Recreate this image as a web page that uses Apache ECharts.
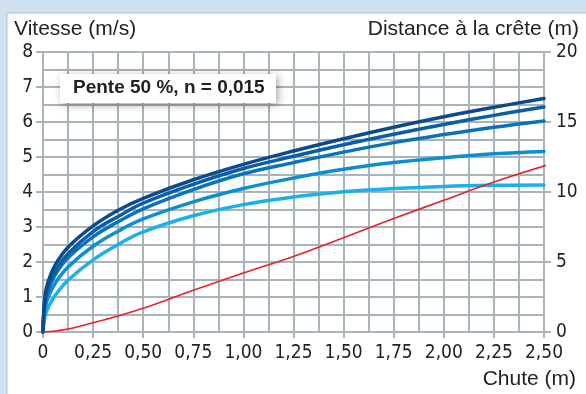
<!DOCTYPE html>
<html>
<head>
<meta charset="utf-8">
<script src="https://cdn.jsdelivr.net/npm/echarts@6/dist/echarts.min.js"></script>
<style>
html, body { margin: 0; padding: 0; background: #cde2ee; }
#chart { width: 586px; height: 394px; }
</style>
</head>
<body>
<div id="chart"></div>
<script>
// chute (m) for the speed curves
var chute = [0, 0.01, 0.03, 0.0625, 0.125, 0.25, 0.375, 0.5, 0.75, 1.0, 1.25, 1.5, 1.75, 2.0, 2.25, 2.5];
// vitesse (m/s), darkest to lightest
var vit1 = [0, 1.04, 1.51, 1.93, 2.42, 3.03, 3.48, 3.82, 4.35, 4.79, 5.17, 5.52, 5.85, 6.15, 6.42, 6.67];
var vit2 = [0, 0.91, 1.35, 1.75, 2.24, 2.87, 3.30, 3.68, 4.22, 4.67, 5.02, 5.35, 5.65, 5.93, 6.19, 6.43];
var vit3 = [0, 0.84, 1.26, 1.65, 2.12, 2.72, 3.15, 3.52, 4.07, 4.52, 4.84, 5.14, 5.41, 5.64, 5.85, 6.03];
var vit4 = [0, 0.68, 1.05, 1.41, 1.86, 2.45, 2.88, 3.23, 3.72, 4.1, 4.40, 4.65, 4.84, 4.98, 5.09, 5.16];
var vit5 = [0, 0.45, 0.75, 1.06, 1.48, 2.06, 2.50, 2.86, 3.32, 3.64, 3.86, 4.01, 4.10, 4.16, 4.19, 4.2];
// distance à la crête (m)
var chuteDist = [0, 0.125, 0.25, 0.375, 0.5, 0.75, 1.0, 1.25, 1.5, 1.75, 2.0, 2.25, 2.54];
var distance = [0, 0.22, 0.66, 1.15, 1.69, 2.98, 4.22, 5.4, 6.74, 8.1, 9.41, 10.71, 12.03];

var blues = ['#0b4a8b', '#0a5ea6', '#0873bd', '#0b8fd3', '#1ab0ea'];
var vitesses = [vit1, vit2, vit3, vit4, vit5];

function pairs(xs, ys) {
	var out = [];
	for (var i = 0; i < xs.length; i++) out.push([xs[i], ys[i]]);
	return out;
}

var gridColor = '#a8b3ba';
var font = 'Liberation Sans, Arial, sans-serif';
var tickFont = '"Liberation Sans Narrow", "DejaVu Sans Condensed", "Liberation Sans", sans-serif';

var series = [];
for (var k = 0; k < vitesses.length; k++) {
	series.push({
		type: 'line',
		data: pairs(chute, vitesses[k]),
		smooth: 0.4,
		showSymbol: false,
		z: 10 - k,
		lineStyle: { color: blues[k], width: 3.5, cap: 'round' }
	});
}
series.push({
	type: 'line',
	yAxisIndex: 1,
	data: pairs(chuteDist, distance),
	smooth: 0.4,
	showSymbol: false,
	z: 11,
	lineStyle: { color: '#e8202a', width: 1.6 }
});

var myChart = echarts.init(document.getElementById('chart'));
var option = {
	animation: false,
	backgroundColor: 'transparent',
	grid: { left: 43, right: 42, top: 52, bottom: 62 },
	xAxis: {
		type: 'value', min: 0, max: 2.5, interval: 0.25,
		axisLine: { show: true, lineStyle: { color: gridColor, width: 2 } },
		axisTick: { show: true, length: 6, lineStyle: { color: gridColor, width: 2 } },
		axisLabel: {
			margin: 12, color: '#222', fontSize: 19, fontFamily: tickFont,
			formatter: function (v) { return v === 0 ? '0' : v.toFixed(2).replace('.', ','); }
		},
		splitLine: { show: true, lineStyle: { color: gridColor, width: 2 } },
		minorTick: { show: false, splitNumber: 2 },
		minorSplitLine: { show: true, lineStyle: { color: gridColor, width: 2 } }
	},
	yAxis: [{
		type: 'value', min: 0, max: 8, interval: 1,
		axisLine: { show: true, lineStyle: { color: gridColor, width: 2 } },
		axisTick: { show: true, length: 7, lineStyle: { color: gridColor, width: 2 } },
		axisLabel: { margin: 10, color: '#222', fontSize: 19, fontFamily: tickFont },
		splitLine: { show: true, lineStyle: { color: gridColor, width: 2 } },
		minorTick: { show: false, splitNumber: 2 },
		minorSplitLine: { show: true, lineStyle: { color: gridColor, width: 2 } }
	}, {
		type: 'value', min: 0, max: 20, interval: 5, position: 'right',
		axisLine: { show: true, lineStyle: { color: gridColor, width: 2 } },
		axisTick: { show: true, length: 7, lineStyle: { color: gridColor, width: 2 } },
		axisLabel: { margin: 12, color: '#222', fontSize: 19, fontFamily: tickFont },
		splitLine: { show: false }
	}],
	graphic: [
		{ type: 'rect', z: -10, shape: { x: 7, y: 13, width: 579, height: 381 }, style: { fill: '#fff' } },
		{ type: 'line', z: -9, shape: { x1: 7, y1: 13, x2: 7, y2: 394 }, style: { stroke: '#a9c4d3', lineWidth: 1 } },
		{ type: 'line', z: -9, shape: { x1: 7, y1: 13, x2: 586, y2: 13 }, style: { stroke: '#a9c4d3', lineWidth: 1 } },
		{ type: 'text', z: 50, left: 14, top: 19, style: { text: 'Vitesse (m/s)', fill: '#222', font: '21px ' + font } },
		{ type: 'text', z: 50, right: 7, top: 19, style: { text: 'Distance à la crête (m)', fill: '#222', font: '21px ' + font } },
		{ type: 'text', z: 50, right: 10, top: 369, style: { text: 'Chute (m)', fill: '#222', font: '21px ' + font } },
		{
			type: 'rect', z: 100, shape: { x: 60, y: 74, width: 216, height: 29 },
			style: { fill: '#fff', shadowBlur: 8, shadowOffsetX: 2, shadowOffsetY: 2, shadowColor: 'rgba(0,0,0,0.35)' }
		},
		{ type: 'text', z: 101, left: 73, top: 78, style: { text: 'Pente 50 %, n = 0,015', fill: '#222', font: 'bold 19px ' + font } }
	],
	series: series
};
myChart.setOption(option);
</script>
</body>
</html>
